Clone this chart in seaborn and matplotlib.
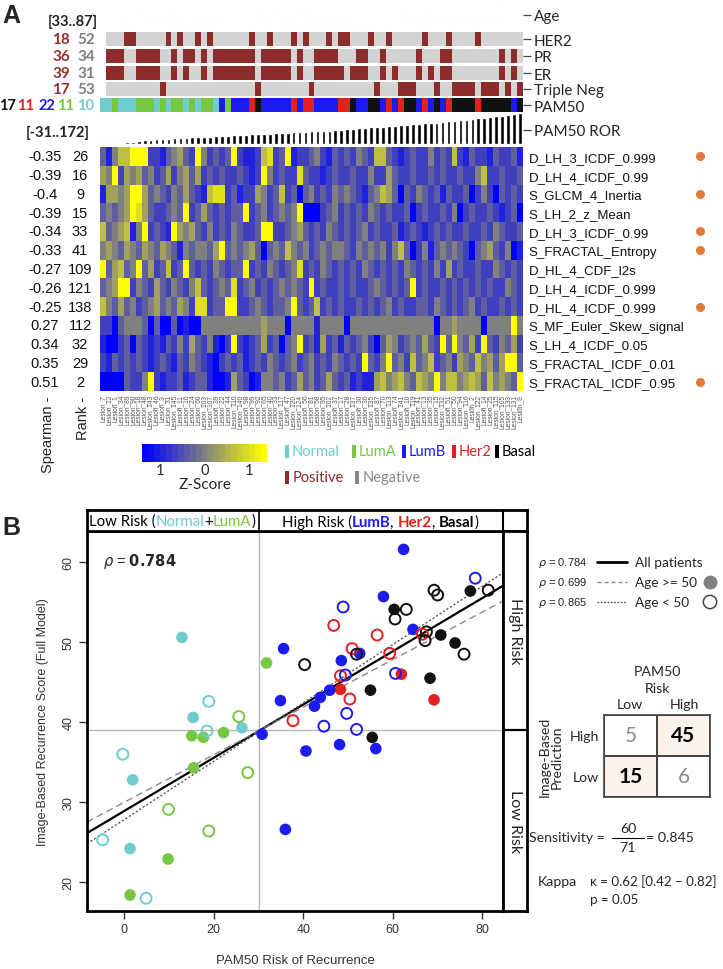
import numpy as np
import pandas as pd
import matplotlib
matplotlib.use("Agg")
import matplotlib.pyplot as plt
import seaborn as sns
from matplotlib.colors import LinearSegmentedColormap, ListedColormap, Normalize
from matplotlib.cm import ScalarMappable
from matplotlib.patches import Rectangle
from matplotlib.offsetbox import TextArea, HPacker, AnchoredOffsetbox

# ================= DATA : panel A =================
lesions = ["Lesion_7","Lesion_12","Lesion_1","Lesion_34","Lesion_89","Lesion_90","Lesion_18","Lesion_48",
           "Lesion_143","Lesion_46","Lesion_3","Lesion_31","Lesion_145","Lesion_11","Lesion_16","Lesion_24",
           "Lesion_60","Lesion_103","Lesion_107","Lesion_39","Lesion_22","Lesion_44","Lesion_110","Lesion_140",
           "Lesion_98","Lesion_99","Lesion_92","Lesion_65","Lesion_40","Lesion_33","Lesion_117","Lesion_47",
           "Lesion_120","Lesion_124","Lesion_56","Lesion_81","Lesion_58","Lesion_95","Lesion_102","Lesion_37",
           "Lesion_17","Lesion_28","Lesion_137","Lesion_30","Lesion_36","Lesion_135","Lesion_87","Lesion_70",
           "Lesion_113","Lesion_74","Lesion_141","Lesion_10","Lesion_119","Lesion_41","Lesion_13","Lesion_35",
           "Lesion_15","Lesion_132","Lesion_51","Lesion_50","Lesion_94","Lesion_116","Lesion_2","Lesion_122",
           "Lesion_14","Lesion_25","Lesion_115","Lesion_105","Lesion_133","Lesion_131","Lesion_9"]

age = [np.nan,45,48,52,56,38,70,45,50,52, 58,50,72,52,40,42,47,55,45,52,
       54,56,72,66,48,38,62,58,50,60, 36,50,40,66,62,48,40,56,38,44,
       38,48,42,40,38,33,48,54,56,58, 48,60,52,46,56,64,50,44,58,48,
       50,52,54,48,56,52,87,50,40,38,48]

receptor_missing = [0]
her2_positive = [4,5,11,13,16,18,25,28,32,34,38,40,41,45,48,54,58,63]
pr_positive = [1,2,3,6,7,8,9,12,14,15,17,19,20,21,22,23,24,25,27,28,29,30,31,33,
               36,37,38,39,43,44,47,53,57,58,67,69]
er_positive = [1,2,3,6,7,8,9,12,14,17,19,20,21,22,23,24,25,27,28,29,30,31,33,
               36,37,38,39,40,42,43,44,47,49,53,55,57,58,67,69]
tn_positive = [10,26,35,46,50,51,52,56,59,60,61,62,64,65,66,68,70]

# N=Normal, A=LumA, B=LumB, H=Her2, K=Basal
pam50 = ("NNANNNAAAN" "ANAANANAAN" "BABBBHKBBB" "BBHBHHBBBB"
         "HHKBBKKBHB" "HKKBHBKBHK" "KKKHKKKKKBK")

pam50_ror = [-31,-29,-27,-26,-24,-22,-16,-12,-8,-5,-2,0,2,4,6,8,10,12,14,16,18,20,22,24,26,28,30,
             32,34,36,38,40,42,44,46,48,50,52,54,57,60,63,66,69,72,75,78,81,84,87,90,93,96,99,
             102,105,108,112,116,120,124,128,132,136,140,145,150,155,160,166,172]

features = ["D_LH_3_ICDF_0.999","D_LH_4_ICDF_0.99","S_GLCM_4_Inertia","S_LH_2_z_Mean",
            "D_LH_3_ICDF_0.99","S_FRACTAL_Entropy","D_HL_4_CDF_l2s","D_LH_4_ICDF_0.999",
            "D_HL_4_ICDF_0.999","S_MF_Euler_Skew_signal","S_LH_4_ICDF_0.05",
            "S_FRACTAL_ICDF_0.01","S_FRACTAL_ICDF_0.95"]
spearman = [-0.35,-0.39,-0.4,-0.39,-0.34,-0.33,-0.27,-0.26,-0.25,0.27,0.34,0.35,0.51]
rank = [26,16,9,15,33,41,109,121,138,112,32,29,2]
selected = [1,0,1,0,1,1,0,0,1,0,0,0,1]

# z-score level read per cell (0 = strong blue ... 4 = grey ... 8 = strong yellow)
zlevels = [
    "3146688822" "1345328423" "2382112672" "3812234213" "2324326632" "1232242326" "21322132231",
    "5482545342" "3524535232" "3223212842" "3227322123" "2232242253" "2232232322" "32246223223",
    "1554588534" "3243532167" "7231225423" "6230342324" "3432134653" "0324323132" "23024203232",
    "3434587532" "2343823532" "3233823423" "4348000234" "2323243232" "2302322324" "02322321230",
    "6345614823" "2185453242" "3243223882" "2345323243" "2323423223" "1232123232" "23223243223",
    "4543543543" "5431434435" "8343453034" "3643423434" "4324343424" "6302413434" "32034532401",
    "8356348352" "3623832324" "3233823243" "2347232432" "3232432323" "2432324252" "32232243232",
    "3458824325" "3243246323" "4372342323" "4343282322" "3232234323" "2382322323" "23232322432",
    "6435342345" "3435427723" "3882234323" "3483236232" "3223232342" "3223324323" "23423223232",
    "2203444303" "0030100444" "4444444544" "4044441444" "4044444444" "4444440445" "44440444484",
    "1002303212" "1324253241" "0282123523" "0348231523" "1323420354" "2343532838" "43528324352",
    "2132323212" "3213243210" "2323123243" "2342342324" "3232832483" "4263462342" "54364535883",
    "0000322482" "1223123310" "0153201443" "4235342353" "2312115645" "6436548466" "45653645438",
]

# ================= DATA : panel B =================
sc_ror = [12.9,31.8,35.6,40.3,48.9,46.8,57.9,60.3,60.5,63.0,69.2,70.0,77.3,78.4,81.3,64.5,67.5,66.6,
          67.2,70.7,73.9,75.9,56.5,59.3,50.9,51.9,52.6,48.5,48.3,49.4,60.6,61.9,68.3,55.0,48.3,50.4,
          69.2,45.9,43.8,42.5,34.9,49.7,37.7,44.6,51.9,55.4,30.8,40.6,48.1,56.2,15.4,18.9,25.6,18.5,
          15.1,17.7,22.2,26.3,-0.3,1.9,15.5,27.6,9.9,18.9,-4.8,1.3,9.8,1.3,4.9,36.0,62.4]
sc_score = [50.6,47.4,49.2,47.2,54.4,52.1,55.7,54.1,52.9,54.1,56.5,55.9,56.4,58.0,56.5,51.6,51.3,51.0,
            50.2,50.9,49.9,48.5,50.9,48.6,49.2,48.5,48.6,47.7,45.8,45.9,46.1,46.0,45.5,44.0,44.1,42.9,
            42.8,44.0,43.1,42.0,42.7,41.1,40.2,39.5,39.1,38.1,38.5,36.4,37.2,36.7,40.6,42.6,40.7,38.9,
            38.3,38.1,38.7,39.3,36.0,32.8,34.3,33.7,29.1,26.4,25.3,24.2,22.9,18.4,18.0,26.6,61.6]
sc_subtype = ("NABKBHBKKK" "KKKBKBKHKK" "KKHHHKBBHB" "BHKKHHHBBB"
              "BBHBBKBBBB" "NNANAAANNN" "AAAANNAANBB")
sc_age50 = ("1110001100" "0010010001" "1000001100" "0111101111"
            "1000011111" "1000111101" "10000111011")
rho_labels = ["0.784", "0.699", "0.865"]
conf_counts = [[5, 45], [15, 6]]     # rows: image High/Low ; cols: PAM50 Low/High
conf_rows = ["High", "Low"]
conf_cols = ["Low", "High"]

# ================= styling =================
sns.set_theme(style="white")
plt.rcParams["font.family"] = ["Liberation Sans", "DejaVu Sans"]
plt.rcParams["mathtext.fontset"] = "dejavusans"
CAL = ["Lato", "DejaVu Sans"]

C = {"N": "#6FCDCD", "A": "#76C843", "B": "#1C1CF2", "H": "#E32020", "K": "#111111"}
POS, NEGROW = "#8E2B2B", "#D3D3D3"

W, H = 723, 970
fig = plt.figure(figsize=(W / 100, H / 100), dpi=100)


def box(x0, y0, x1, y1):
    return [x0 / W, 1 - y1 / H, (x1 - x0) / W, (y1 - y0) / H]


n = len(lesions)
HX0, HX1 = 100, 523


def right_label(ax, text, ypos):
    ax.yaxis.tick_right()
    ax.set_yticks([ypos])
    ax.set_yticklabels([text], fontfamily=CAL, fontsize=11)
    ax.tick_params(axis="y", right=True, left=False, length=6, width=0.9,
                   color="#444", pad=2, labelright=True, labelleft=False)
    ax.set_ylabel("")


# ---- Age bars
ax_age = fig.add_axes(box(HX0, 2, HX1, 30))
age_arr = np.array(age, dtype=float)
ax_age.bar(np.arange(n) + 0.5, age_arr - 31, bottom=31, width=0.13, color="#858585")
ax_age.set_xlim(0, n)
ax_age.set_ylim(31, 87)
for s in ax_age.spines.values():
    s.set_visible(False)
ax_age.set_xticks([])
right_label(ax_age, "Age", 59)

# ---- receptor rows
rec_rows = [("HER2", her2_positive, 33, 47), ("PR", pr_positive, 50, 64),
            ("ER", er_positive, 67, 81), ("Triple Neg", tn_positive, 83, 97)]
rec_counts = []
for name, posl, y0, y1 in rec_rows:
    row = np.zeros(n)
    row[posl] = 1
    row[receptor_missing] = np.nan
    ax = fig.add_axes(box(HX0, y0, HX1, y1))
    sns.heatmap(row[None, :], ax=ax, cmap=ListedColormap([NEGROW, POS]), vmin=0, vmax=1,
                cbar=False, xticklabels=False, yticklabels=False)
    right_label(ax, name, 0.5)
    rec_counts.append((int(np.nansum(row)), int(np.sum(row == 0)), (y0 + y1) / 2))

# ---- PAM50 row
codes = "NABHK"
pam_idx = np.array([codes.index(c) for c in pam50], dtype=float)
ax_pam = fig.add_axes(box(HX0, 99, HX1, 113))
sns.heatmap(pam_idx[None, :], ax=ax_pam, cmap=ListedColormap([C[c] for c in codes]),
            vmin=-0.5, vmax=4.5, cbar=False, xticklabels=False, yticklabels=False)
right_label(ax_pam, "PAM50", 0.5)

# ---- PAM50 ROR bars
ax_ror = fig.add_axes(box(HX0, 114, HX1, 145))
ror = np.array(pam50_ror, dtype=float)
ax_ror.bar(np.arange(n) + 0.5, ror + 36, bottom=-36, width=0.62, color="black")
ax_ror.set_xlim(0, n)
ax_ror.set_ylim(-36, 172)
for s in ax_ror.spines.values():
    s.set_visible(False)
ax_ror.set_xticks([])
right_label(ax_ror, "PAM50 ROR", 60)

# ---- main heatmap
Z = np.array([[(int(ch) - 4) * 0.35 for ch in r] for r in zlevels])
cmap = LinearSegmentedColormap.from_list("bgy", ["#0000FF", "#808080", "#FFFF00"])
ax_h = fig.add_axes(box(HX0, 148, HX1, 392))
sns.heatmap(Z, ax=ax_h, cmap=cmap, vmin=-1.4, vmax=1.4, cbar=False,
            xticklabels=lesions, yticklabels=features)
ax_h.yaxis.tick_right()
ax_h.set_yticklabels(features, rotation=0, fontsize=9.5, color="#111")
ax_h.tick_params(axis="y", length=0, pad=4, labelright=True, labelleft=False)
ax_h.set_xticklabels(lesions, rotation=90, fontsize=4.8, color="#555")
ax_h.tick_params(axis="x", length=0, pad=2)
sel_rows = np.where(np.array(selected) == 1)[0]
ax_h.scatter(np.full(len(sel_rows), 100.7), sel_rows + 0.5, s=42, color="#E07B39",
             clip_on=False, zorder=5, linewidths=0)

# ---- colour bar
ax_cb = fig.add_axes(box(142, 445, 267, 463))
cb = fig.colorbar(ScalarMappable(norm=Normalize(-1.4, 1.4), cmap=cmap.resampled(21)),
                  cax=ax_cb, orientation="horizontal", ticks=[-1, 0, 1])
cb.set_ticklabels(["1", "0", "1"])
cb.outline.set_visible(False)
ax_cb.tick_params(length=0, labelsize=10.5, pad=1)
for t in ax_cb.get_xticklabels():
    t.set_fontfamily(CAL)

# ================= panel B =================
df = pd.DataFrame({"ror": sc_ror, "score": sc_score, "subtype": list(sc_subtype),
                   "age50": [int(c) for c in sc_age50]})

ax_sc = fig.add_axes(box(87, 532, 503, 912))
XL, YL = (-8.3, 84.6), (16.4, 63.9)
ax_sc.set_xlim(*XL)
ax_sc.set_ylim(*YL)
ax_sc.axvline(30, color="#B8B8B8", lw=1, zorder=0)
ax_sc.axhline(39, color="#B8B8B8", lw=1, zorder=0)

sns.scatterplot(data=df[df.age50 == 1], x="ror", y="score", hue="subtype", palette=C,
                s=70, linewidth=0, legend=False, ax=ax_sc, zorder=3)
sns.scatterplot(data=df[df.age50 == 0], x="ror", y="score", hue="subtype", palette=C,
                s=62, linewidth=0, legend=False, ax=ax_sc, zorder=3)
coll = ax_sc.collections[-1]
fc = coll.get_facecolors()
coll.set_edgecolors(fc)
coll.set_facecolors("none")
coll.set_linewidths(1.4)

sns.regplot(data=df, x="ror", y="score", scatter=False, ci=None, truncate=False,
            line_kws=dict(color="black", lw=1.6), ax=ax_sc)
sns.regplot(data=df[df.age50 == 1], x="ror", y="score", scatter=False, ci=None, truncate=False,
            line_kws=dict(color="#8A8A8A", lw=1.0, ls=(0, (5, 3))), ax=ax_sc)
sns.regplot(data=df[df.age50 == 0], x="ror", y="score", scatter=False, ci=None, truncate=False,
            line_kws=dict(color="#555555", lw=1.0, ls=(0, (1.5, 1.5))), ax=ax_sc)
ax_sc.set_xlim(*XL)
ax_sc.set_ylim(*YL)
ax_sc.set_xticks([0, 20, 40, 60, 80])
ax_sc.set_yticks([20, 30, 40, 50, 60])
ax_sc.set_yticklabels(["20", "30", "40", "50", "60"], rotation=90, va="center")
ax_sc.tick_params(axis="both", direction="out", length=6, width=1, color="#333",
                  labelsize=9, labelcolor="#333", bottom=True, left=True, pad=3)
ax_sc.set_xlabel("PAM50 Risk of Recurrence", fontsize=9.5, color="#333", labelpad=13)
ax_sc.set_ylabel("Image-Based Recurrence Score (Full Model)", fontsize=9, color="#333",
                 labelpad=10)
for s in ax_sc.spines.values():
    s.set_linewidth(2)
    s.set_color("black")

# header strip
ax_hd = fig.add_axes(box(87, 511, 527, 532))
ax_hd.set_xlim(-8.3, 89.96)
ax_hd.set_ylim(0, 1)
ax_hd.set_xticks([])
ax_hd.set_yticks([])
ax_hd.axvline(30, color="black", lw=1.2)
ax_hd.axvline(84.6, color="black", lw=1.5)
for s in ax_hd.spines.values():
    s.set_linewidth(2)
    s.set_color("black")

# right risk strip
ax_rs = fig.add_axes(box(503, 532, 527, 912))
ax_rs.set_ylim(*YL)
ax_rs.set_xlim(0, 1)
ax_rs.set_xticks([])
ax_rs.set_yticks([])
ax_rs.axhline(39, color="black", lw=1.6)
for s in ax_rs.spines.values():
    s.set_linewidth(2)
    s.set_color("black")
ax_rs.text(0.5, (39 + YL[1]) / 2, "High Risk", rotation=-90, ha="center", va="center",
           fontsize=11.5, fontfamily=CAL)
ax_rs.text(0.5, (39 + YL[0]) / 2, "Low Risk", rotation=-90, ha="center", va="center",
           fontsize=11.5, fontfamily=CAL)


def multicolor(parts, x, y, size):
    kids = [TextArea(t, textprops=dict(color=c, fontsize=size, fontweight=w, fontfamily=CAL))
            for t, c, w in parts]
    pk = HPacker(children=kids, align="baseline", pad=0, sep=0)
    ab = AnchoredOffsetbox(loc="center", child=pk, pad=0, frameon=False, borderpad=0,
                           bbox_to_anchor=(x / W, 1 - y / H), bbox_transform=fig.transFigure)
    fig.add_artist(ab)


multicolor([("Low Risk (", "black", "normal"), ("Normal", C["N"], "normal"),
            ("+", "black", "normal"), ("LumA", C["A"], "normal"), (")", "black", "normal")],
           172, 522, 10.8)
multicolor([("High Risk (", "black", "normal"), ("LumB", C["B"], "bold"),
            (", ", "black", "normal"), ("Her2", C["H"], "bold"), (", ", "black", "normal"),
            ("Basal", "black", "bold"), (")", "black", "normal")], 380, 522, 10.8)

# confusion table
agree = np.array([[0, 1], [1, 0]])
ax_tb = fig.add_axes(box(604, 716, 710, 798))
sns.heatmap(agree, annot=np.array(conf_counts), fmt="d", cbar=False, ax=ax_tb,
            cmap=ListedColormap(["white", "#FBF2EC"]), vmin=0, vmax=1,
            linewidths=1.2, linecolor="#444", xticklabels=False, yticklabels=False,
            annot_kws=dict(fontsize=15, fontfamily=CAL))
for t, a in zip(ax_tb.texts, agree.ravel()):
    if a:
        t.set_color("black")
        t.set_fontweight("bold")
    else:
        t.set_color("#8C8C8C")
for s in ax_tb.spines.values():
    s.set_visible(True)
    s.set_linewidth(1.2)
    s.set_color("#444")

# ================= overlay text =================
ov = fig.add_axes([0, 0, 1, 1], zorder=10)
ov.set_xlim(0, W)
ov.set_ylim(H, 0)
ov.axis("off")

ov.text(2, 16, "A", fontsize=18, fontweight="bold", va="center", ha="left")
ov.text(2, 528, "B", fontsize=18, fontweight="bold", va="center", ha="left")

amin, amax = int(np.nanmin(age_arr)), int(np.nanmax(age_arr))
ov.text(98, 22, f"[{amin}..{amax}]", ha="right", va="center", fontsize=10.5,
        fontweight="bold", fontfamily=CAL, color="#222")
for p, q, yc in rec_counts:
    ov.text(61, yc, str(p), ha="center", va="center", fontsize=11, fontweight="bold",
            fontfamily=CAL, color="#9A2E2E")
    ov.text(86, yc, str(q), ha="center", va="center", fontsize=11, fontweight="bold",
            fontfamily=CAL, color="#7F7F7F")
for xc, code in [(7, "K"), (26, "H"), (47, "B"), (66, "A"), (86, "N")]:
    ov.text(xc, 106, str(pam50.count(code)), ha="center", va="center", fontsize=10.5,
            fontweight="bold", fontfamily=CAL, color=C[code])
ov.text(90, 133, f"[{int(ror.min())}..{int(ror.max())}]", ha="right", va="center",
        fontsize=10.5, fontweight="bold", fontfamily=CAL, color="#222")

rh = (392 - 148) / len(features)
for i, (sp, rk) in enumerate(zip(spearman, rank)):
    yc = 148 + (i + 0.5) * rh
    ov.text(45, yc, str(sp), ha="center", va="center", fontsize=10.5, color="#111")
    ov.text(80, yc, str(rk), ha="center", va="center", fontsize=10.5, color="#111")
ov.text(48, 397, "Spearman -", rotation=90, ha="center", va="top", fontsize=10.5, color="#222")
ov.text(83, 397, "Rank -", rotation=90, ha="center", va="top", fontsize=10.5, color="#222")

ov.text(205, 485, "Z-Score", ha="center", va="center", fontsize=11, fontfamily=CAL)

for xl, lab, col in [(285, "Normal", C["N"]), (352, "LumA", C["A"]), (402, "LumB", C["B"]),
                     (452, "Her2", C["H"]), (495, "Basal", "black")]:
    ov.add_patch(Rectangle((xl, 446), 4, 13, color=col, lw=0))
    ov.text(xl + 7, 452, lab, color=col, fontsize=10.5, fontfamily=CAL, va="center")
ov.add_patch(Rectangle((285, 472), 4, 13, color=POS, lw=0))
ov.text(293, 478, "Positive", color=POS, fontsize=10.5, fontfamily=CAL, va="center")
ov.add_patch(Rectangle((355, 472), 4, 13, color="#888888", lw=0))
ov.text(363, 478, "Negative", color="#888888", fontsize=10.5, fontfamily=CAL, va="center")

ov.text(103, 562, r"$\rho$ = $\mathbf{" + rho_labels[0] + "}$", fontsize=10.5, va="center")

# legend to the right of B
leg = [(rho_labels[0], dict(color="black", lw=2), "All patients", None),
       (rho_labels[1], dict(color="#8A8A8A", lw=1, ls=(0, (3, 2))), "Age >= 50", "fill"),
       (rho_labels[2], dict(color="#555555", lw=1, ls=(0, (1.2, 1.2))), "Age < 50", "open")]
for i, (rv, lk, lab, mk) in enumerate(leg):
    yy = 563 + 20 * i
    ov.text(538, yy, r"$\rho$ = " + rv, fontsize=8, va="center", color="#222")
    ov.plot([597, 627], [yy, yy], **lk)
    ov.text(635, yy, lab, fontsize=9.8, fontfamily=CAL, va="center")
    if mk == "fill":
        ov.scatter([710], [yy], s=100, color="#808080", linewidths=0)
    elif mk == "open":
        ov.scatter([710], [yy], s=92, facecolors="none", edgecolors="#444", linewidths=1.1)

FS = 10.2
ov.text(657, 672, "PAM50", ha="center", va="center", fontsize=FS, fontfamily=CAL)
ov.text(657, 689, "Risk", ha="center", va="center", fontsize=FS, fontfamily=CAL)
ov.text(630, 705, conf_cols[0], ha="center", va="center", fontsize=FS, fontfamily=CAL)
ov.text(684, 705, conf_cols[1], ha="center", va="center", fontsize=FS, fontfamily=CAL)
ov.text(599, 737, conf_rows[0], ha="right", va="center", fontsize=FS, fontfamily=CAL)
ov.text(599, 778, conf_rows[1], ha="right", va="center", fontsize=FS, fontfamily=CAL)
ov.text(551, 757, "Image-Based\nPrediction", rotation=90, ha="center", va="center",
        fontsize=FS, fontfamily=CAL, linespacing=1.0, multialignment="center")

cc = np.array(conf_counts)
tp = int(cc[0, 1] + cc[1, 0])
tot = int(cc.sum())
ov.text(605, 838, "Sensitivity =", ha="right", va="center", fontsize=FS, fontfamily=CAL)
ov.text(628, 829, str(tp), ha="center", va="center", fontsize=FS, fontfamily=CAL)
ov.plot([612, 644], [838.5, 838.5], color="black", lw=0.8)
ov.text(628, 848, str(tot), ha="center", va="center", fontsize=FS, fontfamily=CAL)
ov.text(646, 838, f"= {tp / tot:.3f}", ha="left", va="center", fontsize=FS, fontfamily=CAL)

ov.text(538, 882, "Kappa", ha="left", va="center", fontsize=FS, fontfamily=CAL)
ov.text(590, 882, "\u03ba = 0.62 [0.42 \u2013 0.82]", ha="left", va="center", fontsize=9.6,
        fontfamily=CAL)
ov.text(590, 900, "p = 0.05", ha="left", va="center", fontsize=9.6, fontfamily=CAL)

fig.savefig("out.png", dpi=100)
